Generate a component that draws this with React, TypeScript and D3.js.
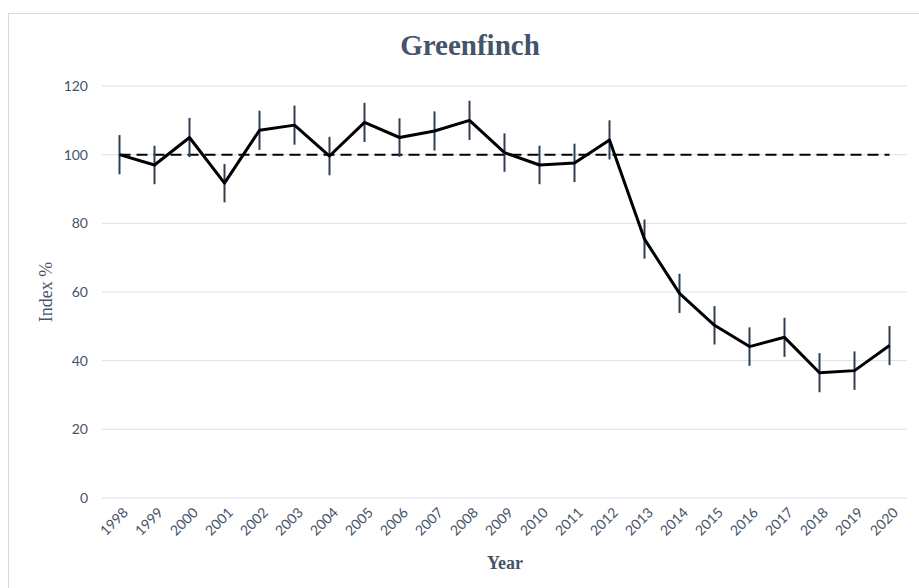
import React from "react";
import * as d3 from "d3";

const years = ["1998","1999","2000","2001","2002","2003","2004","2005","2006","2007","2008","2009","2010","2011","2012","2013","2014","2015","2016","2017","2018","2019","2020"];
const indexValues = [100, 97, 105, 91.7, 107.1, 108.6, 99.6, 109.4, 105, 106.9, 110, 100.6, 97, 97.6, 104.3, 75.4, 59.6, 50.3, 44.1, 46.8, 36.5, 37.1, 44.4];
const errors = [5.7, 5.6, 5.7, 5.6, 5.7, 5.7, 5.6, 5.7, 5.6, 5.7, 5.7, 5.6, 5.6, 5.6, 5.7, 5.7, 5.7, 5.6, 5.6, 5.7, 5.7, 5.6, 5.7];
const baseline = 100;
const yTicks = [0, 20, 40, 60, 80, 100, 120];

const W = 919, H = 588;
const left = 102, right = 907, top = 86, bottom = 498;
const textColor = "#44546a";

export default function App() {
  const x = d3.scaleBand().domain(years).range([left, right]);
  const cx = (yr: string) => (x(yr) as number) + x.bandwidth() / 2;
  const y = d3.scaleLinear().domain([0, 120]).range([bottom, top]);
  const line = d3.line<number>().x((_, i) => cx(years[i])).y((d) => y(d));

  return (
    <svg width={W} height={H} style={{ position: "absolute", left: 0, top: 0, background: "#fff" }}>
      <rect x={8.5} y={13.5} width={1000} height={1000} fill="#fff" stroke="#d9d9d9" strokeWidth={1} />
      <text x={470} y={55} textAnchor="middle" fontFamily="Liberation Serif, serif" fontWeight="bold" fontSize={29} fill={textColor}>Greenfinch</text>
      {yTicks.map((t) => (
        <g key={t}>
          <line x1={left} x2={right} y1={y(t)} y2={y(t)} stroke="#d9e1ea" strokeWidth={1} />
          <text x={88} y={y(t)} dy="0.35em" textAnchor="end" fontFamily="Lato, sans-serif" fontSize={14} fill={textColor}>{t}</text>
        </g>
      ))}
      {years.map((yr) => (
        <text key={yr} transform={`translate(${cx(yr) + 6},${bottom + 12}) rotate(-45)`} textAnchor="end" dy="0.35em" fontFamily="Lato, sans-serif" fontSize={14} fill={textColor}>{yr}</text>
      ))}
      <text x={505} y={569} textAnchor="middle" fontFamily="Liberation Serif, serif" fontWeight="bold" fontSize={18} fill={textColor}>Year</text>
      <text transform={`translate(52,292) rotate(-90)`} textAnchor="middle" fontFamily="Liberation Serif, serif" fontSize={18} fill={textColor}>Index %</text>
      <line x1={cx(years[0])} x2={cx(years[years.length - 1])} y1={y(baseline)} y2={y(baseline)} stroke="#000" strokeWidth={2} strokeDasharray="11,6" />
      {indexValues.map((v, i) => (
        <line key={i} x1={cx(years[i])} x2={cx(years[i])} y1={y(v - errors[i])} y2={y(v + errors[i])} stroke="#2f3e52" strokeWidth={2} />
      ))}
      <path d={line(indexValues) as string} fill="none" stroke="#000" strokeWidth={3} strokeLinejoin="round" />
    </svg>
  );
}
